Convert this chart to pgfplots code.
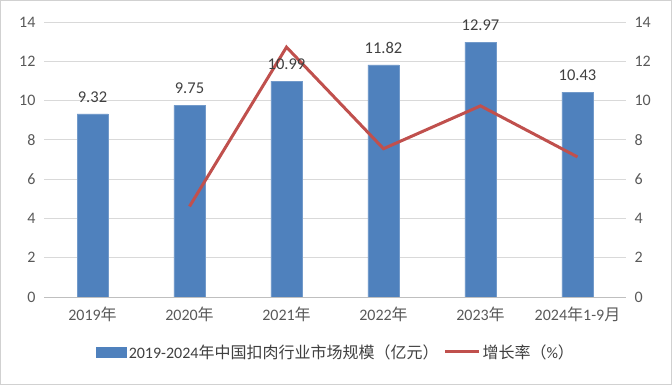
\documentclass[border=0pt]{standalone}
\usepackage{fontspec}
\setmainfont{Carlito}
\newfontfamily\cjk{Noto Sans CJK SC}
\usepackage{pgfplots}
\pgfplotsset{compat=1.18}
\definecolor{barblue}{HTML}{4F81BD}
\definecolor{redline}{HTML}{C0504D}
\definecolor{ticktxt}{HTML}{595959}
\definecolor{lbltxt}{HTML}{404040}
\pgfplotstableread{
x y lbl
0 9.32 9.32
1 9.75 9.75
2 10.99 10.99
3 11.82 11.82
4 12.97 12.97
5 10.43 10.43
}\bardata
\begin{document}
\begin{tikzpicture}[x=1pt,y=1pt]
\draw[color=black!18, line width=1pt] (0.5,0.5) rectangle (671.5,384.5);
\begin{axis}[
  at={(44pt,88pt)}, anchor=south west, scale only axis,
  width=582pt, height=275pt,
  ybar, bar width=31pt,
  xmin=-0.5, xmax=5.5, ymin=0, ymax=14,
  ytick={0,2,...,14},
  xtick=data,
  xticklabels={2019{\cjk 年},2020{\cjk 年},2021{\cjk 年},2022{\cjk 年},2023{\cjk 年},2024{\cjk 年}1-9{\cjk 月}},
  /pgf/number format/assume math mode=true,
  major tick length=0pt,
  ymajorgrids, grid style={color=black!15, line width=0.8pt},
  axis x line*=bottom, axis y line*=left,
  y axis line style={draw=none},
  x axis line style={color=black!25, line width=0.8pt},
  tick label style={font=\fontsize{16}{18}\selectfont, color=ticktxt},
  yticklabel style={xshift=-5pt},
  xticklabel style={yshift=-6pt},
]
\addplot[fill=barblue, draw=barblue!80!white] table[x=x,y=y] {\bardata};
\end{axis}
\begin{axis}[
  at={(44pt,88pt)}, anchor=south west, scale only axis,
  width=582pt, height=275pt,
  xmin=-0.5, xmax=5.5, ymin=0, ymax=14,
  ytick={0,2,...,14},
  axis x line=none, axis y line*=right,
  y axis line style={draw=none},
  major tick length=0pt,
  /pgf/number format/assume math mode=true,
  tick label style={font=\fontsize{16}{18}\selectfont, color=ticktxt},
  yticklabel style={xshift=5pt},
  legend columns=2,
  legend style={draw=none, at={(0.502,-0.2)}, anchor=center,
    font=\fontsize{16}{18}\selectfont, text=lbltxt,
    /tikz/every even column/.append style={column sep=3pt}},
]
\addlegendimage{legend image code/.code={\fill[barblue] (-22pt,-5pt) rectangle (8pt,5pt);}}
\addlegendentry{2019-2024{\cjk 年中国扣肉行业市场规模（亿元）}}
\addplot[redline, line width=3pt, mark=none,
  legend image code/.code={\draw[redline, line width=3pt] (-26pt,0pt) -- (8pt,0pt);}]
  coordinates {(1,4.61) (2,12.72) (3,7.55) (4,9.73) (5,7.13)};
\addlegendentry{{\cjk 增长率（}\%{\cjk ）}}
\end{axis}
\begin{axis}[
  at={(44pt,88pt)}, anchor=south west, scale only axis,
  width=582pt, height=275pt,
  xmin=-0.5, xmax=5.5, ymin=0, ymax=14,
  axis lines=none,
  nodes near coords,
  nodes near coords style={font=\fontsize{16.5}{18}\selectfont, color=lbltxt, yshift=8pt},
  point meta=explicit symbolic,
]
\addplot[draw=none, mark=none, nodes near coords align={vertical}]
  table[x=x,y=y,meta=lbl] {\bardata};
\end{axis}
\end{tikzpicture}
\end{document}
